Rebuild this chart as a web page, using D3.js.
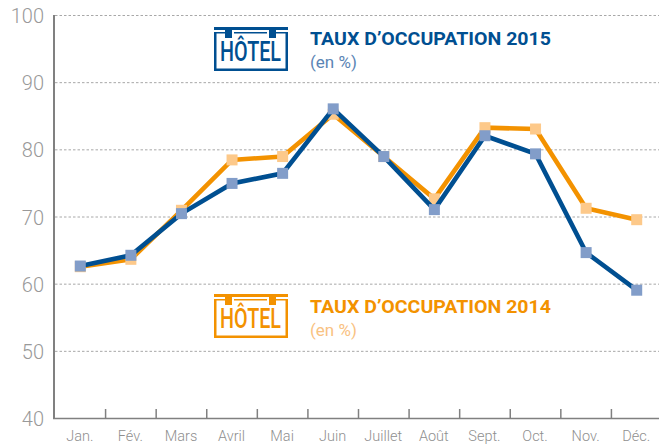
<!DOCTYPE html>
<html><head><meta charset="utf-8">
<script src="https://cdn.jsdelivr.net/npm/d3@7"></script>
<style>html,body{margin:0;padding:0;background:#fff}svg{display:block}</style>
</head><body><div id="c"></div>
<script>
const months = ["Jan.","Fév.","Mars","Avril","Mai","Juin","Juillet","Août","Sept.","Oct.","Nov.","Déc."];
const values2015 = [62.7,64.3,70.5,75,76.5,86.1,79,71.1,82.1,79.4,64.7,59.1];
const values2014 = [62.6,63.7,71,78.5,79,85.3,79,72.7,83.3,83.1,71.3,69.6];
const yTicks = [40,50,60,70,80,90,100];
const W=659,H=445;
const svg=d3.select("#c").append("svg").attr("width",W).attr("height",H);
const x=d3.scaleBand().domain(months).range([55,662]);
const y=d3.scaleLinear().domain([40,100]).range([418.5,15.5]);
const font="Roboto, 'Open Sans', sans-serif";

// gridlines
svg.append("g").selectAll("line").data(yTicks.slice(1)).join("line")
 .attr("x1",55).attr("x2",W).attr("y1",d=>y(d)).attr("y2",d=>y(d))
 .attr("stroke","#a8a8a8").attr("stroke-width",1).attr("stroke-dasharray","2.5 2");

// y labels
svg.append("g").selectAll("text").data(yTicks).join("text")
 .attr("x",44).attr("y",d=>y(d)+7.5).attr("text-anchor","end")
 .attr("font-family",font).attr("font-weight",300).attr("font-size",20).attr("fill","#999").text(d=>d);

// axis
svg.append("line").attr("x1",54).attr("x2",54).attr("y1",15).attr("y2",419).attr("stroke","#808080").attr("stroke-width",2);
svg.append("line").attr("x1",53).attr("x2",W).attr("y1",418.5).attr("y2",418.5).attr("stroke","#808080").attr("stroke-width",1.6);
svg.append("g").selectAll("line").data(months.slice(1)).join("line")
 .attr("x1",d=>x(d)).attr("x2",d=>x(d)).attr("y1",409).attr("y2",418)
 .attr("stroke","#808080").attr("stroke-width",1.5);
svg.append("g").selectAll("text").data(months).join("text")
 .attr("x",d=>x(d)+x.bandwidth()/2-0.5).attr("y",441).attr("text-anchor","middle")
 .attr("font-family",font).attr("font-weight",300).attr("font-size",14.5).attr("fill","#8f8f8f").text(d=>d);

// series
const cx=d=>x(d)+x.bandwidth()/2;
function series(vals,lineCol,markCol){
 const g=svg.append("g");
 const line=d3.line().x((d,i)=>cx(months[i])).y(d=>y(d));
 g.append("path").attr("d",line(vals)).attr("fill","none").attr("stroke",lineCol).attr("stroke-width",4.6).attr("stroke-linejoin","miter");
 g.selectAll("rect").data(vals).join("rect")
  .attr("x",(d,i)=>cx(months[i])-5.5).attr("y",d=>y(d)-5.5).attr("width",11).attr("height",11).attr("fill",markCol);
}
series(values2014,"#f39200","#fdc98a");
series(values2015,"#004f91","#829dc9");

// legends
function hotel(ox,oy,col){
 const g=svg.append("g").attr("transform",`translate(${ox},${oy})`).attr("fill",col);
 const r=[[0,0,74,3],[11,0,7,11],[55,0,7,11],[0,5,2.5,39],[71.5,5,2.5,39],[0,41.5,74,2.5],[0,5,11,1.5],[62,5,12,1.5],[20,5,33,1.5]];
 r.forEach(a=>g.append("rect").attr("x",a[0]).attr("y",a[1]).attr("width",a[2]).attr("height",a[3]));
 g.append("text").attr("x",6).attr("y",34).attr("font-family",font).attr("font-weight",500).attr("font-size",28)
  .attr("textLength",61).attr("lengthAdjust","spacingAndGlyphs").text("HÔTEL");
}
function title(yy,col,sub,txt){
 svg.append("text").attr("x",310).attr("y",yy).attr("font-family",font).attr("font-weight",700).attr("font-size",18.5)
  .attr("fill",col).attr("textLength",241).attr("lengthAdjust","spacingAndGlyphs").text(txt);
 svg.append("text").attr("x",310).attr("y",yy+23).attr("font-family",font).attr("font-weight",400).attr("font-size",17)
  .attr("fill",sub).text("(en %)");
}
hotel(214,27,"#004f91");
title(45,"#004f91","#5b85b5","TAUX D’OCCUPATION 2015");
hotel(214,294,"#f39200");
title(313,"#f39200","#f9c282","TAUX D’OCCUPATION 2014");
</script></body></html>
